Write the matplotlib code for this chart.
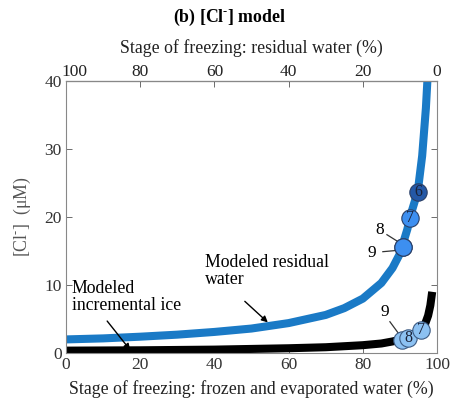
import matplotlib
matplotlib.use("Agg")
import matplotlib.pyplot as plt
from matplotlib.transforms import ScaledTranslation

plt.rcParams['font.family'] = ['Liberation Serif', 'DejaVu Serif']
plt.rcParams['mathtext.fontset'] = 'custom'
plt.rcParams['mathtext.rm'] = 'Liberation Serif'
plt.rcParams['mathtext.bf'] = 'Liberation Serif:bold'

# Stage of freezing (% frozen + evaporated) and modeled [Cl-] (uM)
water_stage = [0, 10, 20, 30, 40, 50, 60, 70, 75, 80, 85, 88, 90, 92, 93, 94, 95, 96, 97, 97.6]
water_cl = [2.0, 2.15, 2.4, 2.7, 3.1, 3.6, 4.4, 5.6, 6.6, 8.0, 10.3, 12.5, 14.6, 18.2, 20.5, 22.3, 24.6, 29.0, 36.0, 42.0]

ice_stage = [0, 20, 40, 60, 70, 80, 85, 88, 90, 92, 94, 95.7, 96.8, 97.6, 98.2, 98.7]
ice_cl = [0.35, 0.4, 0.5, 0.7, 0.85, 1.15, 1.4, 1.7, 1.95, 2.3, 2.9, 3.4, 4.3, 5.5, 7.0, 9.0]

# Sample markers (label, stage, [Cl-])
water_samples = ["9", "8", "7", "6"]
water_sample_stage = [90.8, 90.8, 92.6, 94.9]
water_sample_cl = [15.6, 15.6, 19.9, 23.7]

ice_samples = ["9", "8", "7"]
ice_sample_stage = [90.6, 92.2, 95.7]
ice_sample_cl = [1.9, 2.2, 3.4]

x_ticks = [0, 20, 40, 60, 80, 100]
y_ticks = [0, 10, 20, 30, 40]

cl_ion = r"[Cl$^{\text{-}}$]"

fig = plt.figure(figsize=(4.51, 4.04), dpi=100)
ax = fig.add_axes([0.1463, 0.1262, 0.8227, 0.6733])

blue = '#1a7ac6'
ax.plot(water_stage, water_cl, color=blue, lw=5.8, solid_capstyle='butt', zorder=2)
ax.plot(ice_stage, ice_cl, color='black', lw=5.8, solid_capstyle='butt', zorder=2)

# residual water samples
w_fill = {"9": '#3d8ff0', "8": '#3d8ff0', "7": '#3d8ff0', "6": '#2458a6'}
for lab, xs, ys in zip(water_samples, water_sample_stage, water_sample_cl):
    ax.plot(xs, ys, 'o', ms=12.5, mfc=w_fill[lab], mec='#2a3f66', mew=0.8, zorder=4)
    if lab in ("7", "6"):
        ax.text(xs, ys, lab, ha='center', va='center', fontsize=11.5, color='#1a2238', zorder=5)

# incremental ice samples
for lab, xs, ys in zip(ice_samples, ice_sample_stage, ice_sample_cl):
    ax.plot(xs, ys, 'o', ms=12.5, mfc='#8cc1f2', mec='#3c5a82', mew=0.8, zorder=4)
    if lab in ("8", "7"):
        ax.text(xs, ys, lab, ha='center', va='center', fontsize=11.5, color='#1a2238', zorder=5)

# leader labels for overlapping samples
lead = dict(color='#333333', lw=0.9, zorder=3.5)
ax.text(84.6, 18.1, "8", fontsize=12.5, ha='center', va='center', zorder=5)
ax.plot([86.5, 90.0], [17.4, 16.2], **lead)
ax.text(82.5, 14.7, "9", fontsize=12.5, ha='center', va='center', zorder=5)
ax.plot([85.4, 89.5], [14.9, 15.1], **lead)
ax.text(86.0, 6.0, "9", fontsize=12.5, ha='center', va='center', zorder=5)
ax.plot([87.3, 90.0], [4.6, 2.6], **lead)

# curve labels with arrows
arrow_kw = dict(arrowstyle='-|>', color='black', lw=1.0, mutation_scale=9, shrinkA=0, shrinkB=0)
ax.text(37.5, 14.6, "Modeled residual\nwater", fontsize=12.8, ha='left', va='top',
        linespacing=1.0, zorder=5)
ax.annotate("", xy=(54.4, 4.5), xytext=(48.2, 7.6), arrowprops=arrow_kw, zorder=5)
ax.text(1.6, 10.7, "Modeled\nincremental ice", fontsize=12.8, ha='left', va='top',
        linespacing=1.0, zorder=5)
ax.annotate("", xy=(17.3, 0.45), xytext=(11.1, 4.7), arrowprops=arrow_kw, zorder=5)

ax.set_xlim(0, 100)
ax.set_ylim(0, 40)
ax.set_xticks(x_ticks)
ax.set_yticks(y_ticks)
ax.tick_params(direction='in', length=4, width=0.6, colors='#555555',
               labelcolor='#333333', labelsize=12.5, right=True, pad=3)
for s in ax.spines.values():
    s.set_color('#888888')
    s.set_linewidth(0.8)

ax.set_xlabel("Stage of freezing: frozen and evaporated water (%)", fontsize=12.8,
              color='#222222', labelpad=5)
ax.set_ylabel(cl_ion + "  (\u03bcM)", fontsize=12.8, color='#555555', labelpad=8)

top = ax.secondary_xaxis('top', functions=(lambda v: 100 - v, lambda v: 100 - v))
top.set_xticks(x_ticks)
top.tick_params(direction='in', length=4, width=0.6, colors='#555555',
                labelcolor='#222222', labelsize=12.5, pad=1)
top.set_xlabel("Stage of freezing: residual water (%)", fontsize=12.8, color='#222222', labelpad=8)

fig.text(0.51, 0.957, r"(b) [Cl$^{\mathbf{\text{-}}}$] model", ha='center', va='center',
         fontsize=12.8, fontweight='bold')

fig.canvas.draw()
# nudge the top "100" label clear of the y-axis "40"
for lbl in top.get_xticklabels():
    if lbl.get_text() in ("100",):
        lbl.set_transform(lbl.get_transform() + ScaledTranslation(8 / 100, 0, fig.dpi_scale_trans))

fig.savefig("out.png", dpi=100)
